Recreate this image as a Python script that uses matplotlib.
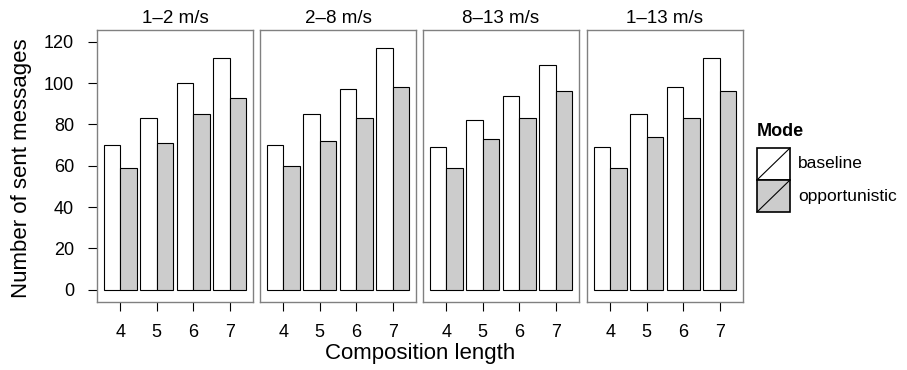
import matplotlib
matplotlib.use("Agg")
import matplotlib.pyplot as plt
from matplotlib.patches import Rectangle
import numpy as np

plt.rcParams['font.family'] = ['Liberation Sans', 'DejaVu Sans']

# data
panels = ['1\u20132 m/s', '2\u20138 m/s', '8\u201313 m/s', '1\u201313 m/s']
lengths = [4, 5, 6, 7]
modes = ['baseline', 'opportunistic']
baseline = [
    [70, 83, 100, 112],
    [70, 85, 97, 117],
    [69, 82, 94, 109],
    [69, 85, 98, 112],
]
opportunistic = [
    [59, 71, 85, 93],
    [60, 72, 83, 98],
    [59, 73, 83, 96],
    [59, 74, 83, 96],
]
mode_colors = ['white', '#cccccc']
y_ticks = [0, 20, 40, 60, 80, 100, 120]

W, H = 907, 370
fig = plt.figure(figsize=(W / 100, H / 100), dpi=100)

panel_left = [97, 260, 423, 587]
panel_w = 156
panel_top, panel_bottom = 30, 302
bar_w = 0.45
x = np.array(lengths, dtype=float)

for i, name in enumerate(panels):
    ax = fig.add_axes([panel_left[i] / W, 1 - panel_bottom / H,
                       panel_w / W, (panel_bottom - panel_top) / H])
    ax.bar(x - bar_w / 2, baseline[i], width=bar_w, color=mode_colors[0],
           edgecolor='black', linewidth=0.8)
    ax.bar(x + bar_w / 2, opportunistic[i], width=bar_w, color=mode_colors[1],
           edgecolor='black', linewidth=0.8)
    ax.set_xlim(3.36, 7.64)
    ax.set_ylim(-5.9, 125.7)
    ax.set_xticks(lengths)
    ax.set_xticklabels([str(v) for v in lengths])
    ax.set_yticks(y_ticks)
    for s in ax.spines.values():
        s.set_color('#808080')
        s.set_linewidth(1.0)
    ax.tick_params(axis='both', length=6.5, width=0.8, color='black',
                   labelsize=13)
    ax.tick_params(axis='x', pad=9)
    ax.tick_params(axis='y', pad=10)
    if i > 0:
        ax.tick_params(axis='y', left=False, labelleft=False)
    ax.set_title(name, fontsize=13.5, pad=5)

fig.text(22 / W, 1 - 168 / H, 'Number of sent messages', rotation=90,
         ha='center', va='center', fontsize=16)
fig.text(420 / W, 1 - 354 / H, 'Composition length', ha='center',
         va='center', fontsize=16)

# legend
fig.text(757 / W, 1 - 132 / H, 'Mode', fontweight='bold', fontsize=13,
         ha='left', va='center')
key_x, key_w, key_h = 757, 33, 32
for j, m in enumerate(modes):
    top = 148 + j * key_h
    fig.patches.append(Rectangle((key_x / W, 1 - (top + key_h) / H),
                                 key_w / W, key_h / H, transform=fig.transFigure,
                                 facecolor=mode_colors[j], edgecolor='black',
                                 linewidth=1.2))
    fig.lines.append(plt.Line2D([key_x / W, (key_x + key_w) / W],
                                [1 - (top + key_h) / H, 1 - top / H],
                                transform=fig.transFigure, color='black',
                                linewidth=0.8))
    fig.text(798 / W, 1 - (top + key_h / 2) / H, m, fontsize=12.5,
             ha='left', va='center')

fig.savefig('out.png', dpi=100)
